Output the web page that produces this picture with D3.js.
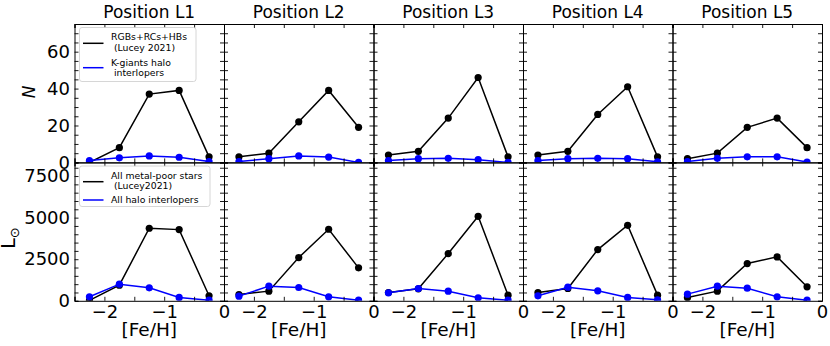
<!DOCTYPE html>
<html>
<head>
<meta charset="utf-8">
<script src="https://d3js.org/d3.v7.min.js"></script>
<style>
  body { margin: 0; background: #fff; }
  svg text { font-family: "DejaVu Sans", sans-serif; fill: #000; }
</style>
</head>
<body>
<div id="chart"></div>
<script>
// bin centres in [Fe/H]
const feh = [-2.25, -1.75, -1.25, -0.75, -0.25];
const titles = ["Position L1", "Position L2", "Position L3", "Position L4", "Position L5"];

// top row: number of stars
const nGiants = [
  [0, 8, 37, 39, 3],
  [3, 5, 22, 39, 19],
  [4, 6, 24, 46, 3],
  [4, 6, 26, 41, 3],
  [2, 5, 19, 24, 8]
];
const nHalo = [
  [1, 2.5, 3.5, 2.8, 0.5],
  [0.5, 2, 3.5, 2.9, 0],
  [1, 2, 2.2, 1.5, 0],
  [1, 2, 2.2, 2, 0.3],
  [0.5, 2.2, 3, 3, 0.2]
];

// bottom row: luminosity (L_sun)
const lumAll = [
  [30, 940, 4360, 4280, 300],
  [380, 580, 2600, 4300, 1980],
  [500, 720, 2840, 5080, 340],
  [500, 740, 3080, 4540, 340],
  [200, 580, 2240, 2640, 840]
];
const lumHalo = [
  [240, 1000, 780, 200, 40],
  [280, 880, 800, 240, 40],
  [480, 740, 580, 180, 40],
  [300, 820, 600, 200, 60],
  [400, 880, 760, 240, 40]
];

const xTicks = [-2, -1, 0];
const xMinor = [-2.5, -2, -1.5, -1, -0.5, 0];
const nTicks = [0, 20, 40, 60];
const lumTicks = [0, 2500, 5000, 7500];

const legendTop = [["RGBs+RCs+HBs", " (Lucey 2021)"], ["K-giants halo", " interlopers"]];
const legendBot = [["All metal-poor stars", " (Lucey2021)"], ["All halo interlopers"]];

const W = 830, H = 346;
const padL = 74.5, panelW = 149.5, padT = 24, rowH = 138.4;
const tick = 4;

const svg = d3.select("#chart").append("svg")
  .attr("width", W).attr("height", H);

const x = d3.scaleLinear().domain([-2.5, 0]);
const yN = d3.scaleLinear().domain([0, 75]).range([padT + rowH, padT]);
const yL = d3.scaleLinear().domain([0, 8320]).range([padT + 2 * rowH, padT + rowH]);

const rows = [
  { y: yN, black: nGiants, blue: nHalo, ticks: nTicks, minor: d3.range(0, 76, 5) },
  { y: yL, black: lumAll, blue: lumHalo, ticks: lumTicks, minor: d3.range(0, 8321, 500) }
];

const fmt = d => d3.format("")(d).replace("-", "\u2212");

rows.forEach((row, r) => {
  const y = row.y;
  const [y1, y0] = y.range();
  titles.forEach((t, p) => {
    const x0 = padL + p * panelW;
    const xs = x.copy().range([x0, x0 + panelW]);
    const g = svg.append("g");
    const clipId = `clip-${r}-${p}`;
    svg.append("clipPath").attr("id", clipId)
      .append("rect").attr("x", x0).attr("y", y0).attr("width", panelW).attr("height", y1 - y0);

    // data
    const plot = g.append("g").attr("clip-path", `url(#${clipId})`);
    [[row.black[p], "#000"], [row.blue[p], "#0000ff"]].forEach(([vals, col]) => {
      const pts = feh.map((f, i) => [f, vals[i]]);
      plot.append("path")
        .attr("d", d3.line().x(d => xs(d[0])).y(d => y(d[1]))(pts))
        .attr("fill", "none").attr("stroke", col).attr("stroke-width", 1.5);
      plot.selectAll(null).data(pts).enter().append("circle")
        .attr("cx", d => xs(d[0])).attr("cy", d => y(d[1]))
        .attr("r", 3.6).attr("fill", col);
    });

    // axes with inward ticks on all sides
    g.append("g").attr("transform", `translate(0,${y1})`)
      .call(d3.axisBottom(xs).tickValues(xMinor).tickSize(-tick).tickFormat(""));
    if (r === 1) {
      const lab = g.append("g").attr("transform", `translate(0,${y1})`)
        .call(d3.axisBottom(xs).tickValues(xTicks).tickSize(0).tickPadding(4).tickFormat(fmt));
      lab.select(".domain").remove();
      lab.selectAll("text").attr("font-size", 18).attr("font-family", "DejaVu Sans");
    }
    g.append("g").attr("transform", `translate(0,${y0})`)
      .call(d3.axisTop(xs).tickValues(xMinor).tickSize(-tick).tickFormat(""));
    g.append("g").attr("transform", `translate(${x0},0)`)
      .call(d3.axisLeft(y).tickValues(row.minor).tickSize(-tick).tickFormat(""));
    g.append("g").attr("transform", `translate(${x0 + panelW},0)`)
      .call(d3.axisRight(y).tickValues(row.minor).tickSize(-tick).tickFormat(""));
    if (p === 0) {
      const lab = g.append("g").attr("transform", `translate(${x0},0)`)
        .call(d3.axisLeft(y).tickValues(row.ticks).tickSize(0).tickPadding(4.5).tickFormat(fmt));
      lab.select(".domain").remove();
      lab.selectAll("text").attr("font-size", 18).attr("font-family", "DejaVu Sans");
    }
    g.selectAll(".domain").attr("stroke", "#000").attr("stroke-width", 1);
    g.selectAll(".tick line").attr("stroke", "#000").attr("stroke-width", 0.9);

    if (r === 0) {
      svg.append("text").attr("x", x0 + panelW / 2).attr("y", 18.3)
        .attr("text-anchor", "middle").attr("font-size", 17).text(t);
    } else {
      svg.append("text").attr("x", x0 + panelW / 2).attr("y", 336)
        .attr("text-anchor", "middle").attr("font-size", 18.5).text("[Fe/H]");
    }
  });
});

// y labels
svg.append("text").attr("transform", "translate(35,92) rotate(-90)")
  .attr("text-anchor", "middle").attr("font-size", 17).attr("font-style", "italic").text("N");
const lt = svg.append("text").attr("transform", "translate(14.5,238) rotate(-90)")
  .attr("text-anchor", "middle").attr("font-size", 19);
lt.append("tspan").text("L");
lt.append("tspan").attr("font-size", 13).attr("dy", 4).text("\u2299");

// legends
function legend(x0, y0, w, h, items, lineYs, textYs) {
  const lg = svg.append("g");
  lg.append("rect").attr("x", x0).attr("y", y0).attr("width", w).attr("height", h)
    .attr("rx", 2.5).attr("fill", "#fff").attr("fill-opacity", 0.8)
    .attr("stroke", "#cccccc").attr("stroke-width", 0.8);
  items.forEach((lines, i) => {
    lg.append("line").attr("x1", x0 + 3.5).attr("x2", x0 + 24).attr("y1", lineYs[i]).attr("y2", lineYs[i])
      .attr("stroke", i === 0 ? "#000" : "#0000ff").attr("stroke-width", 1.5);
    lines.forEach((s, j) => {
      lg.append("text").attr("x", x0 + 31.5).attr("y", textYs[i][j])
        .attr("font-size", 9.3).style("white-space", "pre").text(s);
    });
  });
}
legend(79.5, 27.5, 116.5, 54, legendTop, [43.3, 67.7], [[40, 50.5], [65.5, 75.8]]);
legend(79.5, 166, 130.5, 40.5, legendBot, [181.7, 200], [[179, 189], [203.3]]);
</script>
</body>
</html>
